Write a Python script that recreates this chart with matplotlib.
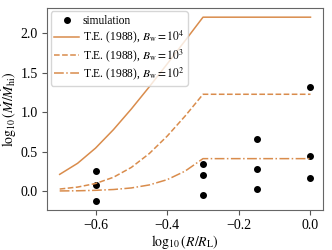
import matplotlib
matplotlib.use("Agg")
import matplotlib.pyplot as plt

plt.rcParams['font.family'] = ['Liberation Serif', 'DejaVu Serif']
plt.rcParams['mathtext.fontset'] = 'stix'

# Simulation points
sim_x = [-0.6, -0.6, -0.6, -0.3, -0.3, -0.3, -0.15, -0.15, -0.15, 0.0, 0.0, 0.0]
sim_y = [0.253, 0.072, -0.122, 0.338, 0.208, -0.046, 0.663, 0.278, 0.030, 1.32, 0.44, 0.165]

# T.E. (1988) curves
te_x = [-0.70, -0.65, -0.60, -0.55, -0.50, -0.45, -0.40, -0.35, -0.30, 0.0]
te_b4 = [0.213, 0.353, 0.545, 0.779, 1.041, 1.321, 1.611, 1.905, 2.203, 2.203]
te_b3 = [0.027, 0.052, 0.097, 0.176, 0.301, 0.476, 0.697, 0.951, 1.227, 1.227]
te_b2 = [0.003, 0.005, 0.011, 0.021, 0.041, 0.079, 0.146, 0.254, 0.412, 0.412]

orange = '#d98c4c'

fig = plt.figure(figsize=(3.32, 2.5), dpi=100)
ax = fig.add_axes([0.142, 0.16, 0.831, 0.808])

ax.plot(sim_x, sim_y, 'o', color='black', markersize=4, label='simulation')
ax.plot(te_x, te_b4, '-', color=orange, lw=1.1, label=r'T.E. (1988), $B_{\rm w}=10^4$')
ax.plot(te_x, te_b3, '--', color=orange, lw=1.1, label=r'T.E. (1988), $B_{\rm w}=10^3$')
ax.plot(te_x, te_b2, '-.', color=orange, lw=1.1, label=r'T.E. (1988), $B_{\rm w}=10^2$')

ax.set_xticks([-0.6, -0.4, -0.2, 0.0])
ax.set_yticks([0.0, 0.5, 1.0, 1.5, 2.0])
ax.tick_params(labelsize=10, color='#555555', length=3.5, pad=3)
for s in ax.spines.values():
    s.set_color('#666666')

ax.set_xlabel(r'$\log_{10}(R/R_{\rm L})$', fontsize=10, labelpad=1)
ax.set_ylabel(r'$\log_{10}(\dot{M}/\dot{M}_{\rm hi})$', fontsize=10, labelpad=1)

ax.legend(loc='upper left', fontsize=8.3, handlelength=2.2, borderpad=0.3,
          labelspacing=0.15, handletextpad=0.3, borderaxespad=0.3)

fig.savefig('out.png', dpi=100)
